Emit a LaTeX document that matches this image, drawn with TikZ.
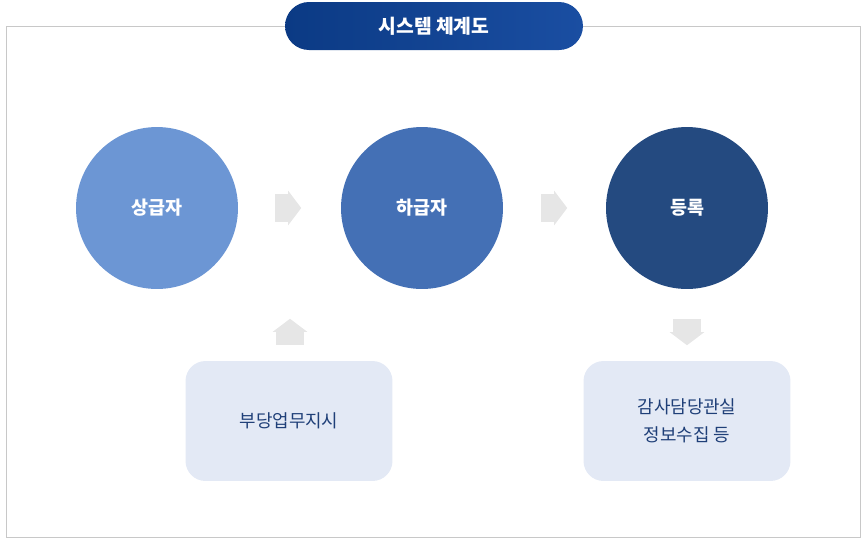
\documentclass[tikz,border=0pt]{standalone}
\usepackage{fontspec}
\setmainfont{Noto Sans CJK KR}
\usepackage{tikz}
\usepackage{xcolor}
\usetikzlibrary{shapes.arrows}

\definecolor{titleL}{HTML}{0B3A84}
\definecolor{titleR}{HTML}{1A4EA2}
\definecolor{upper}{HTML}{6C96D4}
\definecolor{lower}{HTML}{4470B5}
\definecolor{regist}{HTML}{244A80}
\definecolor{boxfill}{HTML}{E3E9F5}
\definecolor{boxtext}{HTML}{1F3F78}
\definecolor{arrowgray}{HTML}{E6E6E6}
\definecolor{framegray}{HTML}{C8C8C8}

\tikzset{
    party/.style={circle, inner sep=0pt, minimum size=3.24cm, text=white, font=\fontsize{10.5}{12}\selectfont\bfseries},
    infobox/.style={rectangle, rounded corners=0.4cm, fill=boxfill, minimum width=4.14cm, minimum height=2.4cm, text=boxtext, align=center, font=\fontsize{10.2}{16}\selectfont},
    flow/.style={single arrow, fill=arrowgray, draw=none, inner xsep=0pt, inner ysep=0.27cm, minimum width=0.68cm, minimum height=0.52cm, single arrow head extend=0.07cm, single arrow tip angle=106},
}

\begin{document}
\begin{tikzpicture}[x=0.02cm, y=-0.02cm]
            \useasboundingbox (0,0) rectangle (867,539);
            \draw[framegray, line width=0.4pt] (6,26) rectangle (860,537);

            \node[rectangle, rounded corners=0.48cm, left color=titleL, right color=titleR, minimum width=5.96cm, minimum height=0.96cm, text=white, font=\fontsize{11}{13}\selectfont\bfseries] (title) at (434,26) {시스템 체계도};

            \node[party, fill=upper] (upper) at (157,208) {상급자};
            \node[party, fill=lower] (lower) at (422,208) {하급자};
            \node[party, fill=regist] (regist) at (687,208) {등록};

            \node[flow] (a1) at (283,208) {};
            \node[flow] (a2) at (549,208) {};
            \node[flow, rotate=90] (a3) at (290,337) {};
            \node[flow, rotate=-90] (a4) at (687,327) {};

            \node[infobox] (order) at (289,421) {부당업무지시};
            \node[infobox] (audit) at (687,421) {감사담당관실\\정보수집 등};
        \end{tikzpicture}
\end{document}
